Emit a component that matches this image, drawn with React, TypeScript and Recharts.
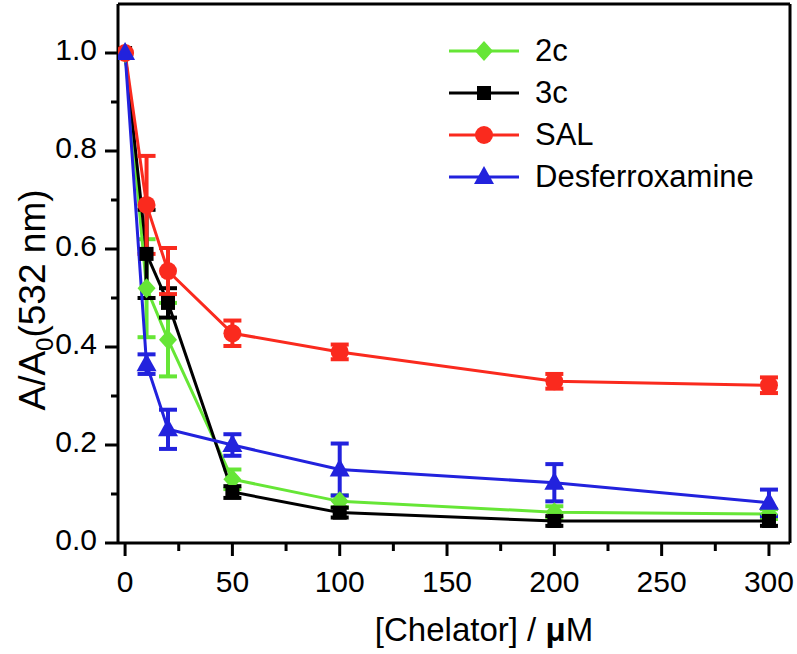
import { LineChart, Line, XAxis, YAxis, ErrorBar, Legend, ReferenceLine, Label } from 'recharts';

const FONT = '"Liberation Sans", Arial, sans-serif';

// [Chelator] in µM
const concentrations = [0, 10, 20, 50, 100, 200, 300];

// A/A0 at 532 nm, with error bars
const ratio2c = [1.0, 0.52, 0.415, 0.13, 0.085, 0.063, 0.059];
const err2c = [0, 0.1, 0.075, 0.02, 0.012, 0.012, 0.01];
const ratio3c = [1.0, 0.59, 0.49, 0.104, 0.062, 0.045, 0.045];
const err3c = [0, 0.09, 0.03, 0.012, 0.01, 0.01, 0.01];
const ratioSal = [1.0, 0.69, 0.555, 0.428, 0.39, 0.33, 0.322];
const errSal = [0, 0.1, 0.047, 0.026, 0.015, 0.015, 0.016];
const ratioDesf = [1.0, 0.365, 0.232, 0.2, 0.15, 0.123, 0.082];
const errDesf = [0, 0.02, 0.04, 0.022, 0.053, 0.038, 0.027];

const xTicks = [0, 25, 50, 75, 100, 125, 150, 175, 200, 225, 250, 275, 300];
const yTicks = [0, 0.1, 0.2, 0.3, 0.4, 0.5, 0.6, 0.7, 0.8, 0.9, 1.0];
const X_DOMAIN: [number, number] = [-3.3, 309.8];
const Y_DOMAIN: [number, number] = [0, 1.1];

type MarkerKind = 'diamond' | 'square' | 'circle' | 'triangle';

interface SeriesDef {
  key: string;
  name: string;
  color: string;
  marker: MarkerKind;
  values: number[];
  errors: number[];
}

const series: SeriesDef[] = [
  { key: 'c2', name: '2c', color: '#66e636', marker: 'diamond', values: ratio2c, errors: err2c },
  { key: 'c3', name: '3c', color: '#000000', marker: 'square', values: ratio3c, errors: err3c },
  { key: 'sal', name: 'SAL', color: '#fa2a1e', marker: 'circle', values: ratioSal, errors: errSal },
  { key: 'desf', name: 'Desferroxamine', color: '#2222dd', marker: 'triangle', values: ratioDesf, errors: errDesf },
];

const chartData = concentrations.map((x, i) => {
  const row: Record<string, number> = { x };
  series.forEach((s) => {
    row[s.key] = s.values[i];
    row[s.key + 'Err'] = s.errors[i];
  });
  return row;
});

function Marker({ kind, cx, cy, color }: { kind: MarkerKind; cx: number; cy: number; color: string }) {
  if (kind === 'diamond') {
    return (
      <polygon
        points={`${cx},${cy - 10} ${cx + 9},${cy} ${cx},${cy + 10} ${cx - 9},${cy}`}
        fill={color}
      />
    );
  }
  if (kind === 'square') {
    return <rect x={cx - 7} y={cy - 7} width={14} height={14} fill={color} />;
  }
  if (kind === 'circle') {
    return <circle cx={cx} cy={cy} r={9} fill={color} />;
  }
  return (
    <polygon
      points={`${cx},${cy - 11} ${cx + 10},${cy + 7} ${cx - 10},${cy + 7}`}
      fill={color}
    />
  );
}

const XTick = ({ x, y, payload }: any) => {
  const major = payload.value % 50 === 0;
  return (
    <g>
      <line x1={x} y1={y} x2={x} y2={y + (major ? 13 : 8)} stroke="#000" strokeWidth={3} />
      {major && (
        <text x={x} y={y + 49} textAnchor="middle" fontSize={30} fontFamily={FONT} fill="#000">
          {payload.value}
        </text>
      )}
    </g>
  );
};

const YTick = ({ x, y, payload }: any) => {
  const major = Math.round(payload.value * 10) % 2 === 0;
  return (
    <g>
      <line x1={x} y1={y} x2={x - (major ? 13 : 7)} y2={y} stroke="#000" strokeWidth={3} />
      {major && (
        <text x={x - 21} y={y + 7} textAnchor="end" fontSize={30} fontFamily={FONT} fill="#000">
          {payload.value.toFixed(1)}
        </text>
      )}
    </g>
  );
};

const renderLegend = () => (
  <div style={{ fontFamily: FONT, fontSize: 31, color: '#000' }}>
    {series.map((s) => (
      <div key={s.key} style={{ display: 'flex', alignItems: 'center', height: 42 }}>
        <svg width={70} height={24}>
          <line x1={0} y1={12} x2={70} y2={12} stroke={s.color} strokeWidth={3} />
          <Marker kind={s.marker} cx={35} cy={12} color={s.color} />
        </svg>
        <span style={{ marginLeft: 16, lineHeight: '42px' }}>{s.name}</span>
      </div>
    ))}
  </div>
);

export default function App() {
  return (
    <div style={{ position: 'absolute', left: 0, top: 0, background: '#fff' }}>
      <LineChart
        width={797}
        height={654}
        data={chartData}
        margin={{ top: 4, right: 7, left: 0, bottom: 0 }}
      >
        <XAxis
          dataKey="x"
          type="number"
          domain={X_DOMAIN}
          allowDataOverflow
          ticks={xTicks}
          interval={0}
          height={111}
          tickSize={0}
          tickMargin={0}
          tick={<XTick />}
          axisLine={{ stroke: '#000', strokeWidth: 3 }}
        >
          <Label
            content={() => (
              <text x={484} y={641} textAnchor="middle" fontSize={33} fontFamily={FONT} fill="#000">
                {'[Chelator] /  '}
                <tspan fontWeight="bold">μ</tspan>
                <tspan>M</tspan>
              </text>
            )}
          />
        </XAxis>
        <YAxis
          type="number"
          domain={Y_DOMAIN}
          allowDataOverflow
          ticks={yTicks}
          interval={0}
          width={118}
          tickSize={0}
          tickMargin={0}
          tick={<YTick />}
          axisLine={{ stroke: '#000', strokeWidth: 3 }}
        >
          <Label
            content={() => (
              <text
                x={45}
                y={300}
                transform="rotate(-90, 45, 300)"
                textAnchor="middle"
                fontSize={37}
                fontFamily={FONT}
                fill="#000"
              >
                A/A
                <tspan dy={8} fontSize={24}>0</tspan>
                <tspan dy={-8}>(532 nm)</tspan>
              </text>
            )}
          />
        </YAxis>
        <ReferenceLine y={Y_DOMAIN[1]} stroke="#000" strokeWidth={3} ifOverflow="visible" />
        <ReferenceLine x={X_DOMAIN[1]} stroke="#000" strokeWidth={3} ifOverflow="visible" />
        <Legend
          layout="horizontal"
          verticalAlign="middle"
          align="center"
          content={renderLegend}
          wrapperStyle={{ left: 449, top: 30, width: 340 }}
        />
        {series.map((s) => (
          <Line
            key={s.key}
            dataKey={s.key}
            name={s.name}
            type="linear"
            stroke={s.color}
            strokeWidth={3}
            isAnimationActive={false}
            dot={(p: any) => (
              <Marker key={`${s.key}-${p.index}`} kind={s.marker} cx={p.cx} cy={p.cy} color={s.color} />
            )}
            activeDot={false}
          >
            <ErrorBar
              dataKey={s.key + 'Err'}
              direction="y"
              width={9}
              stroke={s.color}
              strokeWidth={4}
              isAnimationActive={false}
            />
          </Line>
        ))}
      </LineChart>
    </div>
  );
}
